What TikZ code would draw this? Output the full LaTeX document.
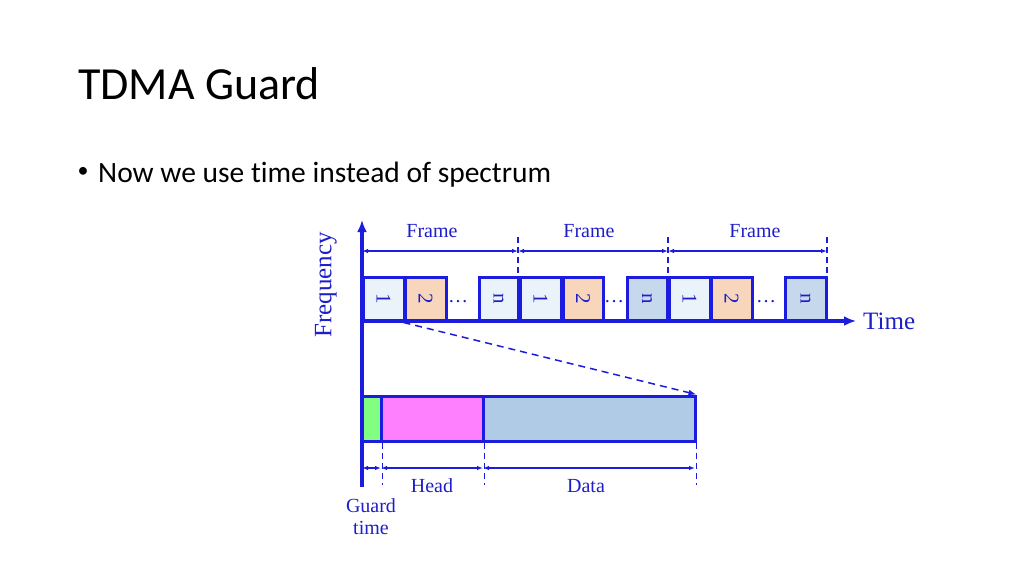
\documentclass[tikz,border=0pt]{standalone}
\usepackage{fontspec}
\setmainfont{Liberation Serif}
\newfontfamily\slidefont[Ligatures=NoCommon]{Carlito}
\usetikzlibrary{arrows.meta}
\definecolor{lb}{RGB}{28,28,222}
\definecolor{tb}{RGB}{30,30,200}
\definecolor{slotA}{RGB}{234,242,250}
\definecolor{slotB}{RGB}{248,214,188}
\definecolor{slotC}{RGB}{198,217,236}
\definecolor{gfill}{RGB}{128,255,128}
\definecolor{pfill}{RGB}{255,128,255}
\definecolor{dfill}{RGB}{175,203,230}
\tikzset{
  slot/.style={draw=lb, line width=3pt, minimum height=44pt, inner sep=0pt, text=tb,
    font=\fontsize{21}{21}\selectfont},
  dots/.style={text=tb, font=\fontsize{20}{20}\selectfont, inner sep=0pt},
  lbl/.style={text=tb, font=\fontsize{20}{22}\selectfont, inner sep=0pt},
  dimline/.style={lb, line width=1.5pt, {Latex[length=6pt,width=4.5pt]}-{Latex[length=6pt,width=4.5pt]}},
  guide/.style={lb, line width=1.6pt, dash pattern=on 6pt off 4pt},
  axis/.style={lb, line width=3.5pt, -{Latex[length=12pt,width=10pt]}},
  bar/.style={draw=lb, line width=3pt, minimum height=45pt, inner sep=0pt},
}
\begin{document}
\begin{tikzpicture}[x=1pt,y=-1pt]
\useasboundingbox (0,0) rectangle (1024,576);
% title and bullet
\node[anchor=base west, inner sep=0pt, font=\slidefont\fontsize{46}{46}\selectfont] (title) at (78,99) {TDMA Guard};
\node[inner sep=0pt, font=\slidefont\fontsize{22}{22}\selectfont] (dot) at (83,172) {\textbullet};
\node[anchor=base west, inner sep=0pt, font=\slidefont\fontsize{29.5}{29.5}\selectfont] (bullet) at (98,182) {Now we use time instead of spectrum};
% coordinates
\coordinate (O) at (362,321);
\coordinate (Ytop) at (362,220);
\coordinate (Ybot) at (362,487);
\coordinate (Xend) at (856,321);
% slots
\node[slot, fill=slotA, minimum width=41pt] (a1) at (383.5,299) {\rotatebox{-90}{1}};
\node[slot, fill=slotB, minimum width=41pt] (a2) at (425.5,299) {\rotatebox{-90}{2}};
\node[dots] (ad) at (458,302) {\dots};
\node[slot, fill=slotA, minimum width=39pt] (an) at (498.5,299) {\rotatebox{-90}{n}};
\node[slot, fill=slotA, minimum width=41pt] (b1) at (540.5,299) {\rotatebox{-90}{1}};
\node[slot, fill=slotB, minimum width=40pt] (b2) at (583,299) {\rotatebox{-90}{2}};
\node[dots] (bd) at (614,302) {\dots};
\node[slot, fill=slotC, minimum width=40pt] (bn) at (647,299) {\rotatebox{-90}{n}};
\node[slot, fill=slotA, minimum width=41pt] (c1) at (689.5,299) {\rotatebox{-90}{1}};
\node[slot, fill=slotB, minimum width=41pt] (c2) at (731.5,299) {\rotatebox{-90}{2}};
\node[dots] (cd) at (766,302) {\dots};
\node[slot, fill=slotC, minimum width=41pt] (cn) at (805.5,299) {\rotatebox{-90}{n}};
% axes
\draw[axis] (Ybot) -- (Ytop);
\draw[axis] (O) -- (Xend);
\node[lbl, font=\fontsize{25}{25}\selectfont, anchor=west] (time) at (863,321) {Time};
\node[lbl, font=\fontsize{25}{25}\selectfont, rotate=90] (freq) at (326,285) {Frequency};
% frame guides
\coordinate (f0) at (362,251);
\coordinate (f1) at (518,251);
\coordinate (f2) at (668,251);
\coordinate (f3) at (827,251);
\coordinate (g1t) at (518,237); \coordinate (g1b) at (518,321);
\coordinate (g2t) at (668,237); \coordinate (g2b) at (668,321);
\coordinate (g3t) at (827,237); \coordinate (g3b) at (827,321);
\draw[guide] (g1t) -- (g1b);
\draw[guide] (g2t) -- (g2b);
\draw[guide] (g3t) -- (g3b);
\draw[dimline] (f0) -- (f1);
\draw[dimline] (f1) -- (f2);
\draw[dimline] (f2) -- (f3);
\node[lbl] (fr1) at (432,231) {Frame};
\node[lbl] (fr2) at (589,231) {Frame};
\node[lbl] (fr3) at (755,231) {Frame};
% expanded slot
\node[bar, fill=gfill, minimum width=19pt] (guard) at (371.5,418.5) {};
\node[bar, fill=pfill, minimum width=102pt] (head) at (432,418.5) {};
\node[bar, fill=dfill, minimum width=212pt] (data) at (589,418.5) {};
\draw[lb, line width=1.5pt, dash pattern=on 7pt off 5pt, -{Latex[length=8pt,width=6pt]}] (a2.south west) -- (data.north east);
% bottom dimension
\coordinate (h0) at (362,468);
\coordinate (h1) at (381,468);
\coordinate (h2) at (483,468);
\coordinate (h3) at (695,468);
\draw[guide] (guard.south east) -- ++(0,42);
\draw[guide] (head.south east) -- ++(0,42);
\draw[guide] (data.south east) -- ++(0,42);
\draw[dimline] (h0) -- (h1);
\draw[dimline] (h1) -- (h2);
\draw[dimline] (h2) -- (h3);
\node[lbl] (headl) at (432,486) {Head};
\node[lbl] (datal) at (586,486) {Data};
\node[lbl, align=center] (guardl) at (371,517) {Guard\\time};
\end{tikzpicture}
\end{document}
